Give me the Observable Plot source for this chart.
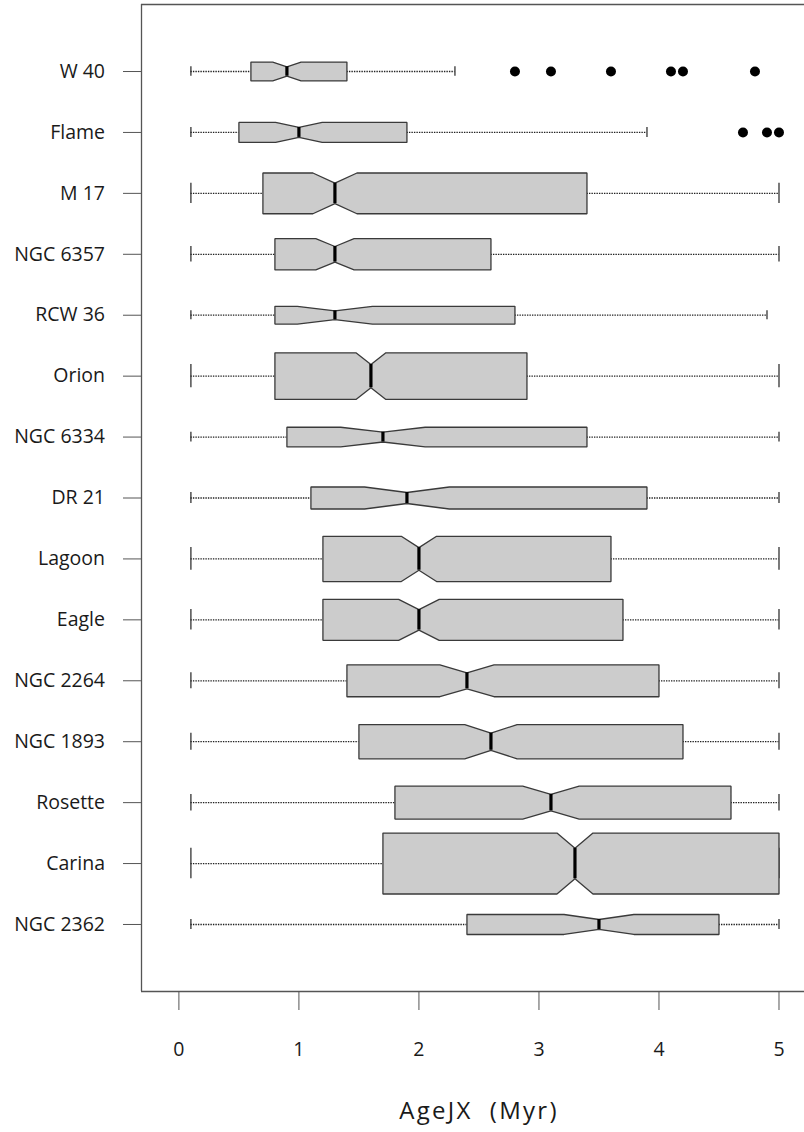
<!DOCTYPE html>
<html>
<head>
<meta charset="utf-8">
<script src="https://cdn.jsdelivr.net/npm/d3@7"></script>
<script src="https://cdn.jsdelivr.net/npm/@observablehq/plot@0.6"></script>
<style>
  html, body { margin: 0; padding: 0; background: #fff; }
  #chart svg { display: block; }
  g[aria-label="text"] text { letter-spacing: 2.3px; }
</style>
</head>
<body>
<div id="chart"></div>
<script>
// ---- data ----
const regions = ["W 40", "Flame", "M 17", "NGC 6357", "RCW 36", "Orion", "NGC 6334", "DR 21",
                 "Lagoon", "Eagle", "NGC 2264", "NGC 1893", "Rosette", "Carina", "NGC 2362"];
const lowerWhisker = [0.1, 0.1, 0.1, 0.1, 0.1, 0.1, 0.1, 0.1, 0.1, 0.1, 0.1, 0.1, 0.1, 0.1, 0.1];
const q1Values     = [0.6, 0.5, 0.7, 0.8, 0.8, 0.8, 0.9, 1.1, 1.2, 1.2, 1.4, 1.5, 1.8, 1.7, 2.4];
const medianValues = [0.9, 1.0, 1.3, 1.3, 1.3, 1.6, 1.7, 1.9, 2.0, 2.0, 2.4, 2.6, 3.1, 3.3, 3.5];
const q3Values     = [1.4, 1.9, 3.4, 2.6, 2.8, 2.9, 3.4, 3.9, 3.6, 3.7, 4.0, 4.2, 4.6, 5.0, 4.5];
const upperWhisker = [2.3, 3.9, 5.0, 5.0, 4.9, 5.0, 5.0, 5.0, 5.0, 5.0, 5.0, 5.0, 5.0, 5.0, 5.0];
const counts       = [115, 130, 540, 318, 102, 708, 126, 157, 666, 546, 332, 382, 354, 1208, 130];
const outlierRegion = ["W 40", "W 40", "W 40", "W 40", "W 40", "W 40", "Flame", "Flame", "Flame"];
const outlierAge    = [2.8, 3.1, 3.6, 4.1, 4.2, 4.8, 4.7, 4.9, 5.0];
const xTicks = [0, 1, 2, 3, 4, 5];
const xTickLabels = ["0", "1", "2", "3", "4", "5"];
const xLabel = "AgeJX\u00a0\u00a0(Myr)";

// ---- R-style notched, variable-width box statistics ----
const nMax = d3.max(counts);
const boxWex = 1.0;       // full box height (row units) for the largest sample
const notchFrac = 0.5;
const rows = regions.map((name, i) => {
  const n = counts[i];
  const half = boxWex / 2 * Math.sqrt(n / nMax);
  const notch = 1.58 * (q3Values[i] - q1Values[i]) / Math.sqrt(n);
  return {name, idx: i + 1, lo: lowerWhisker[i], q1: q1Values[i], med: medianValues[i],
          q3: q3Values[i], hi: upperWhisker[i], half, notch};
});
const boxPts = rows.flatMap(d => {
  const m = d.med, n = d.notch, w = d.half, f = notchFrac;
  return [[d.q1, -w], [d.q1, w], [m - n, w], [m, f * w], [m + n, w], [d.q3, w],
          [d.q3, -w], [m + n, -w], [m, -f * w], [m - n, -w]]
    .map(([x, o]) => ({name: d.name, x, y: d.idx + o}));
});
const outliers = outlierRegion.map((r, i) => ({idx: regions.indexOf(r) + 1, x: outlierAge[i]}));

const frameColor = "#555";
const textColor = "#1a1a1a";
const xMin = -0.3116, xMax = 5.2125;
const yTop = -0.1, yBottom = 16.1;

const chart = Plot.plot({
  width: 804,
  height: 1132,
  marginLeft: 141,
  marginRight: 0,
  marginTop: 4,
  marginBottom: 141,
  style: {fontFamily: "'Open Sans', sans-serif", fontSize: "19.5px", background: "#fff", color: textColor},
  x: {domain: [xMin, xMax], axis: null},
  y: {domain: [yBottom, yTop], axis: null},
  marks: [
    // frame (top, left, bottom)
    Plot.ruleY([yTop], {stroke: frameColor, strokeWidth: 1.3}),
    Plot.ruleY([yBottom], {stroke: frameColor, strokeWidth: 1.3}),
    Plot.ruleX([xMin], {stroke: frameColor, strokeWidth: 1.3}),
    // axes
    Plot.axisY(d3.range(1, regions.length + 1), {
      anchor: "left", tickSize: 18, tickPadding: 18.5, label: null,
      tickFormat: i => regions[i - 1], stroke: frameColor, fill: textColor, fontSize: 19.5
    }),
    Plot.axisX(xTicks, {
      anchor: "bottom", tickSize: 19, tickPadding: 32, label: null,
      tickFormat: v => xTickLabels[xTicks.indexOf(v)],
      stroke: frameColor, fill: textColor, fontSize: 19.5
    }),
    // whiskers (dotted)
    Plot.ruleY(rows, {y: "idx", x1: "lo", x2: "q1", stroke: "#222", strokeWidth: 1.3, strokeDasharray: "1.4,1.1"}),
    Plot.ruleY(rows, {y: "idx", x1: "q3", x2: "hi", stroke: "#222", strokeWidth: 1.3, strokeDasharray: "1.4,1.1"}),
    // staples
    Plot.ruleX(rows, {x: "lo", y1: d => d.idx - d.half / 2, y2: d => d.idx + d.half / 2, stroke: "#333", strokeWidth: 1.3}),
    Plot.ruleX(rows, {x: "hi", y1: d => d.idx - d.half / 2, y2: d => d.idx + d.half / 2, stroke: "#333", strokeWidth: 1.3}),
    // notched boxes
    Plot.line(boxPts, {x: "x", y: "y", z: "name", curve: "linear-closed",
      fill: "#cccccc", stroke: "#3a3a3a", strokeWidth: 1.3, strokeLinejoin: "miter"}),
    // medians
    Plot.ruleX(rows, {x: "med", y1: d => d.idx - notchFrac * d.half, y2: d => d.idx + notchFrac * d.half,
      stroke: "#000", strokeWidth: 3.2, strokeLinecap: "butt"}),
    // outliers
    Plot.dot(outliers, {x: "x", y: "idx", r: 5, fill: "#000", stroke: "none"}),
    // x axis title
    Plot.text([xLabel], {frameAnchor: "bottom", dx: 6, dy: 120, fontSize: 24, fill: textColor,
      textAnchor: "middle", lineAnchor: "middle"})
  ]
});
document.getElementById("chart").appendChild(chart);
</script>
</body>
</html>
